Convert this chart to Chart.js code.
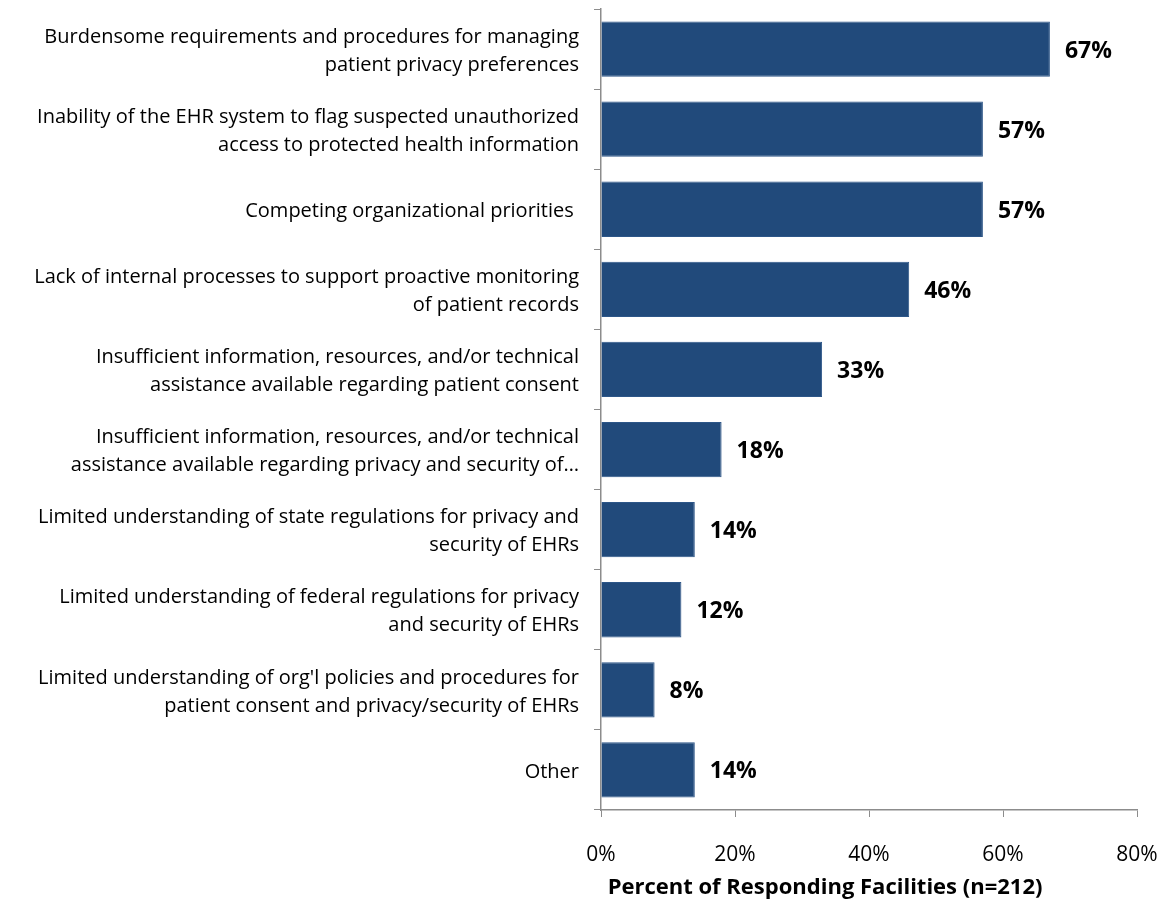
<!DOCTYPE html>
<html>
<head>
<meta charset="utf-8">
<script src="https://cdn.jsdelivr.net/npm/chart.js@4"></script>
<style>
  html, body { margin: 0; padding: 0; background: #fff; }
  #wrap { width: 1164px; height: 901px; position: relative; }
</style>
</head>
<body>
<div id="wrap"><canvas id="barriers"></canvas></div>
<script>
// Barriers reported by facilities, share of respondents
var categories = [
    ['Burdensome requirements and procedures for managing', 'patient privacy preferences'],
    ['Inability of the EHR system to flag suspected unauthorized', 'access to protected health information'],
    'Competing organizational priorities ',
    ['Lack of internal processes to support proactive monitoring', 'of patient records'],
    ['Insufficient information, resources, and/or technical', 'assistance available regarding patient consent'],
    ['Insufficient information, resources, and/or technical', 'assistance available regarding privacy and security of\u2026'],
    ['Limited understanding of state regulations for privacy and', 'security of EHRs'],
    ['Limited understanding of federal regulations for privacy', 'and security of EHRs'],
    ["Limited understanding of org'l policies and procedures for", 'patient consent and privacy/security of EHRs'],
    'Other'
];
var percents = [67, 57, 57, 46, 33, 18, 14, 12, 8, 14];
var xTicks = [0, 20, 40, 60, 80];
var axisTitle = 'Percent of Responding Facilities (n=212)';

var FONT = '"Open Sans", "Noto Sans", sans-serif';
var AXIS_GREY = '#8c8c8c';

// value labels at the end of each bar
var valueLabels = {
    id: 'valueLabels',
    afterDatasetsDraw: function (chart) {
        var ctx = chart.ctx;
        var meta = chart.getDatasetMeta(0);
        ctx.save();
        ctx.font = 'bold 23px ' + FONT;
        ctx.fillStyle = '#000';
        ctx.textAlign = 'left';
        ctx.textBaseline = 'middle';
        meta.data.forEach(function (bar, i) {
            ctx.fillText(percents[i] + '%', bar.x + 15, bar.y + 2);
        });
        ctx.restore();
    }
};

// axis title sits a little left of the plot centre
var xTitle = {
    id: 'xTitle',
    afterDraw: function (chart) {
        var ctx = chart.ctx;
        var x = chart.scales.x;
        ctx.save();
        ctx.font = 'bold 22px ' + FONT;
        ctx.fillStyle = '#000';
        ctx.textAlign = 'center';
        ctx.textBaseline = 'middle';
        ctx.fillText(axisTitle, x.left + (x.right - x.left) * 0.418, 888);
        ctx.restore();
    }
};

var chart = new Chart(document.getElementById('barriers'), {
    type: 'bar',
    data: {
        labels: categories,
        datasets: [{
            data: percents,
            backgroundColor: '#214a7b',
            borderColor: '#2d5688',
            borderWidth: 1,
            categoryPercentage: 1,
            barPercentage: 0.69
        }]
    },
    options: {
        indexAxis: 'y',
        responsive: true,
        maintainAspectRatio: false,
        animation: false,
        layout: { padding: { top: 9, right: 27, left: 0, bottom: 0 } },
        plugins: {
            legend: { display: false },
            tooltip: { enabled: false }
        },
        scales: {
            x: {
                min: 0,
                max: 80,
                afterBuildTicks: function (scale) {
                    scale.ticks = xTicks.map(function (v) { return { value: v }; });
                },
                afterFit: function (scale) {
                    scale.height = 91;
                    scale.paddingLeft = 0;
                    scale.paddingRight = 0;
                },
                grid: { drawOnChartArea: false, drawTicks: true, tickLength: 7, color: AXIS_GREY },
                border: { color: AXIS_GREY, width: 1.5 },
                ticks: {
                    font: { family: FONT, size: 21 },
                    color: '#000',
                    padding: 25,
                    callback: function (v) { return v + '%'; }
                }
            },
            y: {
                afterFit: function (scale) {
                    scale.width = 601;
                    // two-line labels should not push the plot down
                    scale.paddingTop = 0;
                    scale.paddingBottom = 0;
                },
                grid: { drawOnChartArea: false, drawTicks: true, tickLength: 7, color: AXIS_GREY, offset: true },
                border: { color: AXIS_GREY, width: 1.5 },
                ticks: {
                    font: { family: FONT, size: 20, lineHeight: 1.4 },
                    color: '#000',
                    padding: 15,
                    labelOffset: 2,
                    autoSkip: false
                }
            }
        }
    },
    plugins: [valueLabels, xTitle]
});
</script>
</body>
</html>
